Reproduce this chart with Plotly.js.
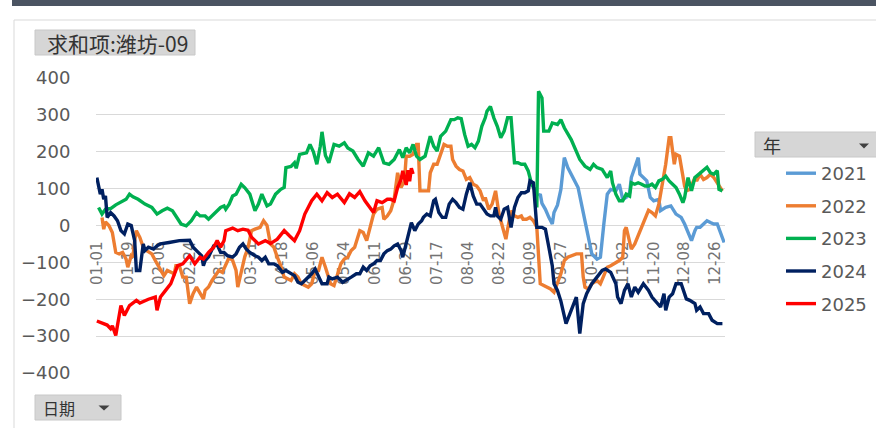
<!DOCTYPE html>
<html>
<head>
<meta charset="utf-8">
<script src="https://cdn.plot.ly/plotly-3.0.1.min.js"></script>
<style>
html,body{margin:0;padding:0;background:#fff;}
#chart{width:876px;height:428px;}
</style>
</head>
<body>
<div id="chart"></div>
<script>
// x = day index of a leap year (0 = 01-01 ... 365 = 12-31)
const tickLabels = ['01-01','01-19','02-06','02-24','03-13','03-31','04-18','05-06','05-24','06-11','06-29','07-17','08-04','08-22','09-09','09-27','10-15','11-02','11-20','12-08','12-26'];
const years = ['2021','2022','2023','2024','2025'];
const colors = ['#5B9BD5','#ED7D31','#00B050','#002060','#FF0000'];

const day2021 = [257,258,259,261,263,265,266,268,270,272,274,277,280,282,284,286,288,291,293,295,297,299,302,304,306,308,310,311,313,315,316,318,320,322,324,327,328,331,334,337,340,342,344,346,348,349,351,353,355,357,359,361,363,365];
const val2021 = [80,85,60,44,22,4,35,55,98,184,157,130,103,58,13,-32,-77,-91,-86,4,85,98,94,112,71,76,89,130,157,184,139,130,121,76,67,71,40,49,53,31,22,4,-19,-41,-14,-5,-5,4,13,8,4,4,-19,-46];

const day2022 = [3,4,5,7,9,11,13,15,17,18,20,21,22,23,25,27,29,32,34,37,39,41,43,45,46,48,50,52,54,56,58,60,62,63,65,67,69,71,73,75,77,79,81,82,84,86,88,90,92,95,97,99,101,103,105,107,109,111,113,115,117,119,121,123,125,127,129,131,133,135,136,138,140,142,144,146,148,150,153,155,157,159,161,163,166,167,169,171,173,175,176,177,179,180,182,184,186,187,188,191,193,194,195,196,198,200,202,204,206,207,209,211,213,215,217,219,221,223,225,226,228,230,232,234,236,238,239,241,243,245,247,248,250,252,254,256,258,260,262,264,266,268,270,272,274,279,282,283,284,286,288,291,293,295,297,299,302,304,306,307,308,309,311,313,315,318,320,321,323,325,327,329,331,333,334,336,337,339,340,342,343,345,348,349,351,353,355,357,359,361,364];
const val2022 = [22,-10,10,0,-19,-73,-77,-73,-91,-113,-82,-86,-41,-14,-32,-59,-68,-77,-95,-118,-136,-122,-127,-131,-109,-109,-140,-140,-212,-185,-167,-181,-199,-176,-167,-149,-136,-122,-127,-104,-86,-95,-122,-167,-122,-86,-59,-14,-10,-5,13,0,-50,-59,-86,-109,-140,-145,-149,-131,-140,-158,-163,-167,-158,-122,-122,-86,-113,-149,-158,-163,-136,-104,-91,-86,-68,-59,-14,-19,-41,-5,31,44,49,17,26,40,71,143,120,103,121,188,188,193,220,220,94,94,94,143,152,166,166,197,220,215,215,179,161,152,148,125,130,112,107,94,67,76,44,58,94,31,-1,-37,-10,40,26,22,26,17,17,22,13,-5,-158,-163,-167,-172,-181,-154,-131,-95,-86,-77,-77,-140,-167,-172,-158,-149,-158,-136,-113,-109,-100,-95,-86,-14,-5,-23,-64,-50,-28,4,26,41,35,26,58,112,166,238,238,166,193,188,157,107,94,98,130,121,139,125,130,139,130,116,94];

const day2023 = [1,3,5,8,11,15,17,19,21,24,28,32,35,38,41,44,46,49,52,55,58,60,63,65,69,72,74,75,77,79,81,84,86,89,92,94,96,99,101,104,107,109,110,113,115,116,118,122,124,126,128,130,131,133,135,138,141,144,146,149,152,155,158,161,164,167,170,173,176,178,180,182,184,186,188,191,194,196,198,200,203,206,208,210,212,214,216,218,220,222,224,226,227,229,231,233,235,237,239,241,243,245,247,249,251,253,255,256,257,259,260,263,265,268,270,272,276,279,281,284,287,289,291,294,297,299,300,302,304,306,308,310,311,313,315,317,319,321,323,325,327,329,331,333,335,337,339,341,342,344,346,348,349,351,353,355,357,359,361,362,364];
const val2023 = [49,31,44,46,56,67,71,85,78,71,58,49,31,40,47,40,26,4,-1,13,35,26,26,17,35,49,53,44,58,80,85,112,103,85,40,58,85,53,58,85,98,103,157,160,170,155,193,197,220,200,166,215,254,190,170,220,215,224,210,202,179,161,197,188,211,170,166,179,206,184,211,197,220,188,179,188,242,215,202,242,256,287,287,292,290,247,215,220,211,229,269,292,310,323,292,269,238,256,292,292,170,170,166,166,148,112,94,49,364,346,256,256,278,274,287,265,233,202,179,161,152,166,157,152,130,148,116,85,67,67,85,80,116,112,116,112,107,107,112,103,121,125,134,121,112,103,85,62,76,130,94,130,134,143,152,158,143,139,149,98,94];

const day2024 = [0,2,3,4,5,6,8,10,12,14,16,18,20,22,23,25,27,28,30,33,35,37,42,48,54,56,59,61,62,63,65,68,70,72,74,76,79,81,83,85,87,89,92,94,96,98,100,103,105,108,110,113,115,117,119,121,123,125,127,129,131,134,135,137,140,143,145,148,151,153,155,157,159,161,163,165,167,169,171,173,175,177,178,180,183,185,187,189,190,192,194,196,197,199,201,203,205,207,209,211,213,215,217,219,221,223,225,227,229,231,232,233,235,237,239,241,243,245,247,249,251,252,254,255,256,259,261,263,265,266,268,270,273,276,279,281,283,285,288,291,294,296,299,302,303,305,307,309,311,313,315,318,321,323,326,328,330,331,333,335,337,340,343,345,348,349,351,353,356,358,361,364];
const val2024 = [130,85,98,71,80,22,35,26,13,-14,-23,4,0,-41,-122,-122,-50,-68,-59,-64,-55,-50,-46,-41,-40,-59,-73,-82,-109,-95,-85,-55,-52,-73,-73,-82,-86,-77,-59,-50,-64,-73,-82,-86,-95,-86,-104,-104,-109,-127,-122,-131,-136,-154,-158,-149,-140,-131,-118,-140,-158,-158,-140,-145,-140,-154,-149,-140,-131,-131,-113,-122,-109,-104,-95,-95,-77,-68,-64,-55,-50,-68,-86,-50,8,-14,4,13,22,31,26,67,71,35,22,22,58,71,62,49,44,85,116,80,58,58,44,31,26,26,49,26,17,44,49,-5,49,76,89,89,94,121,116,40,-5,-5,-10,-59,-109,-158,-176,-205,-266,-230,-194,-293,-212,-185,-158,-140,-122,-118,-127,-158,-194,-212,-176,-158,-194,-167,-181,-158,-176,-194,-212,-221,-185,-230,-194,-185,-158,-158,-199,-203,-212,-230,-221,-239,-239,-257,-266,-266];

const day2025 = [0,2,4,6,8,9,11,13,14,16,19,23,25,30,34,35,37,40,43,47,50,54,57,60,62,65,68,70,72,74,75,79,82,85,88,90,94,98,101,105,109,112,115,118,121,125,128,131,134,137,140,144,147,150,153,156,159,161,163,166,169,171,173,175,177,178,180,181,182,183,184];
const val2025 = [-259,-262,-265,-270,-280,-272,-298,-240,-217,-244,-217,-203,-210,-200,-194,-230,-194,-176,-158,-109,-104,-82,-104,-86,-91,-73,-59,-41,-59,-41,-14,-7,-14,-10,-13,-32,-50,-41,-49,-37,-14,-28,-41,-14,31,67,85,67,89,76,85,62,86,76,92,67,49,35,67,62,71,71,67,103,125,148,110,150,120,155,140];

const dayArrays = [day2021, day2022, day2023, day2024, day2025];
const valArrays = [val2021, val2022, val2023, val2024, val2025];

const traces = years.map((yr, i) => ({
  type: 'scatter', mode: 'lines', name: yr, legendgroup: yr,
  x: dayArrays[i], y: valArrays[i],
  line: {color: colors[i], width: 3.4}
}));

// pixel helpers for decoration (plot area 96..725 x, 78..373 y)
const PL = 96, PR = 725, PT = 78, PB = 373;
const X = px => (px - PL) / (PR - PL);
const Y = py => (PB - py) / (PB - PT);

function rect(x0, y0, x1, y1, fill, line, layer) {
  return {type: 'rect', xref: 'paper', yref: 'paper', x0: X(x0), x1: X(x1), y0: Y(y1), y1: Y(y0),
    fillcolor: fill, line: {color: line || fill, width: line ? 1 : 0}, layer: layer || 'above'};
}
function tri(cx, cy, w, h) {
  const p = `M${X(cx - w/2)},${Y(cy - h/2)} L${X(cx + w/2)},${Y(cy - h/2)} L${X(cx)},${Y(cy + h/2)} Z`;
  return {type: 'path', xref: 'paper', yref: 'paper', path: p, fillcolor: '#404040', line: {width: 0}};
}

const shapes = [
  rect(12, -4, 890, 6, '#4B5462', null, 'below'),
  rect(14, 20, 900, 440, 'rgba(0,0,0,0)', '#D9D9D9', 'below'),
  rect(35, 30, 195, 55, '#D6D6D6', '#C8C8C8'),
  rect(35, 395, 121, 420, '#D6D6D6', '#C8C8C8'),
  rect(755, 132, 880, 157, '#D6D6D6', '#C8C8C8'),
  tri(104, 408, 11, 5),
  tri(864, 146, 10, 5)
];

const annotations = [
  {text: '求和项:潍坊-09', xref: 'paper', yref: 'paper', x: X(117), y: Y(42.5), xanchor: 'center', yanchor: 'middle', showarrow: false,
   font: {family: 'Noto Sans CJK SC', size: 21, color: '#333333'}},
  {text: '日期', xref: 'paper', yref: 'paper', x: X(41), y: Y(407.5), xanchor: 'left', yanchor: 'middle', showarrow: false,
   font: {family: 'Noto Sans CJK SC', size: 16, color: '#333333'}},
  {text: '年', xref: 'paper', yref: 'paper', x: X(761), y: Y(144.5), xanchor: 'left', yanchor: 'middle', showarrow: false,
   font: {family: 'Noto Sans CJK SC', size: 18, color: '#333333'}}
];

const layout = {
  width: 876, height: 428,
  margin: {l: PL, r: 876 - PR, t: PT, b: 428 - PB, pad: 0, autoexpand: false},
  paper_bgcolor: '#FFFFFF', plot_bgcolor: '#FFFFFF',
  showlegend: true,
  legend: {x: X(781), y: Y(155), xanchor: 'left', yanchor: 'top', bgcolor: 'rgba(0,0,0,0)',
    font: {family: 'DejaVu Sans', size: 18, color: '#595959'}, tracegroupgap: 6.2, traceorder: 'grouped'},
  xaxis: {
    range: [-0.5, 365.5], tickvals: tickLabels.map((_, i) => i * 18), ticktext: tickLabels,
    tickangle: -90, showgrid: false, zeroline: false, showline: false,
    ticks: 'outside', ticklen: 9, tickcolor: 'rgba(0,0,0,0)',
    anchor: 'free', position: 0.5, layer: 'below traces',
    tickfont: {family: 'DejaVu Sans', size: 15, color: '#737373'}, fixedrange: true
  },
  yaxis: {
    range: [-400, 400], dtick: 100, tick0: 0, showgrid: true, gridcolor: '#D9D9D9', gridwidth: 1,
    zeroline: false, showline: false, ticks: 'outside', ticklen: 21, tickcolor: 'rgba(0,0,0,0)',
    tickfont: {family: 'DejaVu Sans', size: 18, color: '#595959'}, fixedrange: true
  },
  shapes: shapes,
  annotations: annotations
};

Plotly.newPlot('chart', traces, layout, {staticPlot: true, displayModeBar: false});
</script>
</body>
</html>
